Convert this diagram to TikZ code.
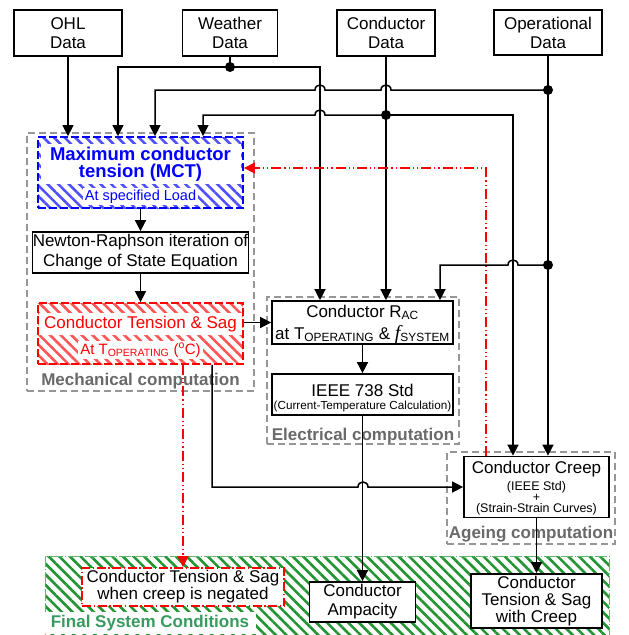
\documentclass[tikz,border=0pt]{standalone}
\usepackage{fontspec}
\setmainfont{Liberation Sans}
\newfontfamily\serifit{Liberation Serif}
\usetikzlibrary{arrows.meta,patterns.meta}

\definecolor{grpline}{RGB}{150,150,150}
\definecolor{grptext}{RGB}{105,105,105}
\definecolor{fingreen}{RGB}{55,155,95}
\definecolor{hatchgreen}{RGB}{35,148,50}
\definecolor{hatchblue}{RGB}{80,80,255}
\definecolor{hatchred}{RGB}{255,85,85}

\newcommand\fsz[2]{\fontsize{#1}{#2}\selectfont}

\begin{document}
\begin{tikzpicture}[x=1pt,y=-1pt,
  box/.style={draw=black, line width=1.7pt, fill=white, inner sep=0pt, align=center, font=\fsz{17}{19}},
  grp/.style={draw=grpline, line width=1.2pt, dash pattern=on 7pt off 4pt, inner sep=0pt},
  grplabel/.style={text=grptext, font=\bfseries\fsz{17}{19}, anchor=base, inner sep=0pt},
  hatch/.style={pattern={Lines[angle=-45,distance=7.5pt,line width=2.6pt]}},
  mctbox/.style={hatch, pattern color=hatchblue, draw=blue, line width=1.8pt, dash pattern=on 8pt off 3pt, inner sep=0pt},
  ctsbox/.style={hatch, pattern color=hatchred, draw=red, line width=1.8pt, dash pattern=on 8pt off 3pt, inner sep=0pt},
  finalarea/.style={hatch, pattern color=hatchgreen, draw=hatchgreen!70, line width=0.8pt, dash pattern=on 12pt off 2pt on 1pt off 2pt, inner sep=0pt},
  negbox/.style={draw=red, line width=1.8pt, dash pattern=on 9pt off 2.5pt on 1.5pt off 2.5pt, fill=white, align=center, inner sep=0pt, font=\fsz{17}{17}},
  conn/.style={line width=1.5pt, draw=black},
  arr/.style={conn, -{Triangle[width=11pt,length=11pt]}},
  redarr/.style={draw=red, line width=1.4pt, dash pattern=on 10pt off 3pt on 1.2pt off 3pt on 1.2pt off 3pt, -{Triangle[width=11pt,length=11pt]}},
  txt/.style={anchor=base, inner sep=0pt},
]
\useasboundingbox (0,0) rectangle (629,635);

% computation groups and the final-conditions band
\node[grp, minimum width=227pt, minimum height=258pt] (mech) at (140.5,262) {};
\node[grp, minimum width=192pt, minimum height=147pt] (elec) at (363,370.5) {};
\node[grp, minimum width=168pt, minimum height=92pt] (age) at (531,498) {};
\node[finalarea, minimum width=564pt, minimum height=80pt] (final) at (327,596) {};

% input data
\node[box, minimum width=108pt, minimum height=46pt] (ohl) at (68,33) {OHL\\Data};
\node[box, minimum width=95pt, minimum height=46pt] (weather) at (230,33) {Weather\\Data};
\node[box, minimum width=98pt, minimum height=46pt] (cond) at (386,33) {Conductor\\Data};
\node[box, minimum width=108pt, minimum height=45pt] (oper) at (548,32.5) {Operational\\Data};

% mechanical computation
\node[mctbox, minimum width=205pt, minimum height=71pt] (mct) at (140.5,172.5) {};
\node[txt, anchor=center, text=blue, font=\bfseries\fsz{18.5}{17}, fill=white, align=center, minimum width=200pt, minimum height=40pt] (mcttitle) at (140.5,164) {Maximum conductor\\tension (MCT)};
\node[txt, text=blue, font=\fsz{14.5}{16}, fill=white, inner xsep=1.5pt, inner ysep=1.5pt] (mctsub) at (140.5,200) {At specified Load};

\node[box, font=\fsz{17}{20}, minimum width=216pt, minimum height=41pt] (nr) at (140.5,252.5) {Newton-Raphson iteration of\\Change of State Equation};

\node[ctsbox, minimum width=205pt, minimum height=61pt] (cts) at (140.5,333.5) {};
\node[txt, text=red, font=\fsz{17}{19}, fill=white, minimum width=203pt, inner ysep=3pt] (ctstitle) at (140.5,328.3) {Conductor Tension \& Sag};
\node[txt, text=red, font=\fsz{15}{17}, fill=white, inner xsep=2pt, inner ysep=2pt] (ctssub) at (140.5,354) {At T\textsubscript{OPERATING} (\textsuperscript{o}C)};
\node[grplabel] (mechlabel) at (140.5,385.7) {Mechanical computation};

% electrical computation
\node[box, minimum width=181pt, minimum height=43pt] (rac) at (362.5,322.5) {};
\node[txt, font=\fsz{17}{19}] (racA) at (362.5,317.3) {Conductor R\textsubscript{AC}};
\node[txt, font=\fsz{17}{19}] (racB) at (362.5,339) {at T\textsubscript{OPERATING} \& {\serifit\itshape\fsz{20}{20}f}\textsubscript{SYSTEM}};
\node[box, minimum width=181pt, minimum height=41pt] (ieee) at (362.5,394.5) {};
\node[txt, font=\fsz{17}{19}] (ieeeA) at (362.5,396.3) {IEEE 738 Std};
\node[txt, font=\fsz{11.7}{13}] (ieeeB) at (362.5,409) {(Current-Temperature Calculation)};
\node[grplabel] (eleclabel) at (363,440) {Electrical computation};

% ageing computation
\node[box, minimum width=145pt, minimum height=61pt] (creep) at (536.5,487) {};
\node[txt, font=\fsz{17}{19}] (creepA) at (536.5,473.3) {Conductor Creep};
\node[txt, font=\fsz{12.5}{14}] (creepB) at (536.5,490) {(IEEE Std)};
\node[txt, font=\fsz{12.5}{14}] (creepC) at (536.5,501.4) {+};
\node[txt, font=\fsz{12.5}{14}] (creepD) at (536.5,512.5) {(Strain-Strain Curves)};
\node[grplabel] (agelabel) at (531,538.3) {Ageing computation};

% final system conditions
\node[negbox, minimum width=202pt, minimum height=38pt] (neg) at (183,587) {Conductor Tension \& Sag\\when creep is negated};
\node[box, minimum width=106pt, minimum height=40pt] (amp) at (362.5,602) {Conductor\\Ampacity};
\node[box, font=\fsz{17}{17}, minimum width=131pt, minimum height=54pt] (tsc) at (536.5,601) {Conductor\\Tension \& Sag\\with Creep};
\node[grplabel, text=fingreen, fill=white, inner xsep=7pt, inner ysep=3pt] (finlabel) at (150,627.7) {Final System Conditions};

% junction points on the data buses
\coordinate (wdot) at (230,67);
\coordinate (cdot) at (386,115);
\coordinate (odotA) at (548,90);
\coordinate (odotB) at (548,265);

% data feeds
\draw[arr] (ohl.south) -- (ohl.south |- mct.north);
\draw[conn] (weather.south) -- (wdot);
\draw[arr] (wdot) -| ([xshift=-22.5pt]mct.north);
\draw[arr] (wdot) -| ([xshift=-42.5pt]rac.north);
\draw[arr] (cond.south) -- ([xshift=23.5pt]rac.north);
\draw[arr] (cdot) -- (325,115) .. controls (325,108.3) and (315,108.3) .. (315,115) -| ([xshift=62.5pt]mct.north);
\draw[arr] (cdot) -| ([xshift=-23.5pt]creep.north);
\draw[arr] (oper.south) -- ([xshift=11.5pt]creep.north);
\draw[arr] (odotA) -- (391,90) .. controls (391,83.3) and (381,83.3) .. (381,90)
  -- (325,90) .. controls (325,83.3) and (315,83.3) .. (315,90) -| ([xshift=14.5pt]mct.north);
\draw[arr] (odotB) -- (518,265) .. controls (518,258.3) and (508,258.3) .. (508,265) -| ([xshift=77.5pt]rac.north);

% computation flow
\draw[arr] (mct.south) -- (nr.north);
\draw[arr] (nr.south) -- (cts.north);
\draw[arr] (cts.east |- rac.west) -- (rac.west);
\draw[arr] (rac.south) -- (ieee.north);
\draw[arr] (ieee.south) -- (amp.north);
\draw[arr] ([xshift=71.5pt]cts.south) |- (358,487) .. controls (358,480.3) and (368,480.3) .. (368,487) -- (creep.west);
\draw[arr] (creep.south) -- (tsc.north);
\draw[redarr] ([xshift=42.5pt]cts.south) -- (neg.north);
\draw[redarr] ([xshift=-50.5pt]creep.north) |- ([yshift=4.5pt]mct.east);

% junction dots
\foreach \j in {wdot,cdot,odotA,odotB} \fill (\j) circle[radius=5pt];
\end{tikzpicture}
\end{document}
